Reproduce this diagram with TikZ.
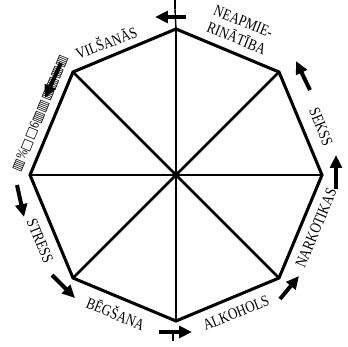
\documentclass[tikz,border=0pt]{standalone}
\usepackage{fontspec}
\setmainfont{Liberation Serif}[FakeStretch=0.82]
\newfontfamily\symf{DejaVu Sans}
\usetikzlibrary{arrows.meta}
\tikzset{
  edge/.style={line width=2.6pt, line join=miter},
  spoke/.style={line width=2.2pt},
  lab/.style={font=\fontsize{13.5}{14}\selectfont, inner sep=0pt},
  arr/.style={line width=3.4pt, -{Triangle[length=11pt, width=10pt]}},
}
\begin{document}
\begin{tikzpicture}[x=0.03cm,y=-0.03cm]
\useasboundingbox (0,0) rectangle (347,347);
\coordinate (C) at (176,175);
\coordinate (v0) at (322,175);
\coordinate (v1) at (279,72);
\coordinate (v2) at (176,29);
\coordinate (v3) at (73,72);
\coordinate (v4) at (30,175);
\coordinate (v5) at (73,278);
\coordinate (v6) at (176,321);
\coordinate (v7) at (279,278);
\draw[spoke] (v0) -- (v4);
\draw[spoke] (v1) -- (v5);
\draw[spoke] (v2) -- (v6);
\draw[spoke] (v3) -- (v7);
\draw[edge] (v0) -- (v1) -- (v2) -- (v3) -- (v4) -- (v5) -- (v6) -- (v7) -- cycle;
\fill (C) circle (3.8);
% labels
\node[lab, rotate=21] (l1) at (106,42) {VILŠANĀS};
\node[lab, rotate=-22, align=center] (l2) at (240,30) {NEAPMIE-\\[1.5pt]RINĀTĪBA};
\node[lab, rotate=-67.5] (l3) at (321,127) {SEKSS};
\node[lab, rotate=67.5] (l4) at (316,228) {NARKOTIKAS};
\node[lab, rotate=22] (l5) at (236,313) {ALKOHOLS};
\node[lab, rotate=-22] (l6) at (116,313) {BĒGŠANA};
\node[lab, rotate=-67.5] (l7) at (40,241) {STRESS};
\node[lab, rotate=67.5, font=\fontsize{12}{12}\selectfont] (l8) at (40,113) {{\symf\fontsize{11}{11}\selectfont ▥}\%{\symf\fontsize{11}{11}\selectfont □□}6{\symf\fontsize{11}{11}\selectfont ▥▥▥▥▥▥}};
% arrows (counterclockwise circulation)
\coordinate (a0s) at (175,0);
\coordinate (a0e) at (175,9);
\draw[line width=1.8pt] (a0s) -- (a0e);
\draw[line width=1.2pt] (a0e) -- (v2);
\coordinate (t1) at (186,17);  \coordinate (h1) at (155,17);
\coordinate (t2) at (310,90);  \coordinate (h2) at (296,61);
\coordinate (t3) at (336,189); \coordinate (h3) at (336,155);
\coordinate (t4) at (280,299); \coordinate (h4) at (299,276);
\coordinate (t5) at (159,332); \coordinate (h5) at (192,332);
\coordinate (t6) at (52,275);  \coordinate (h6) at (75,298);
\coordinate (t7) at (17,185);  \coordinate (h7) at (24,217);
\coordinate (t8) at (61,63);   \coordinate (h8) at (45,98);
\foreach \i in {1,...,8} \draw[arr] (t\i) -- (h\i);
\coordinate (b0s) at (173,334);
\coordinate (b0e) at (173,341);
\draw[line width=1.4pt] (b0s) -- (b0e);
\end{tikzpicture}
\end{document}
